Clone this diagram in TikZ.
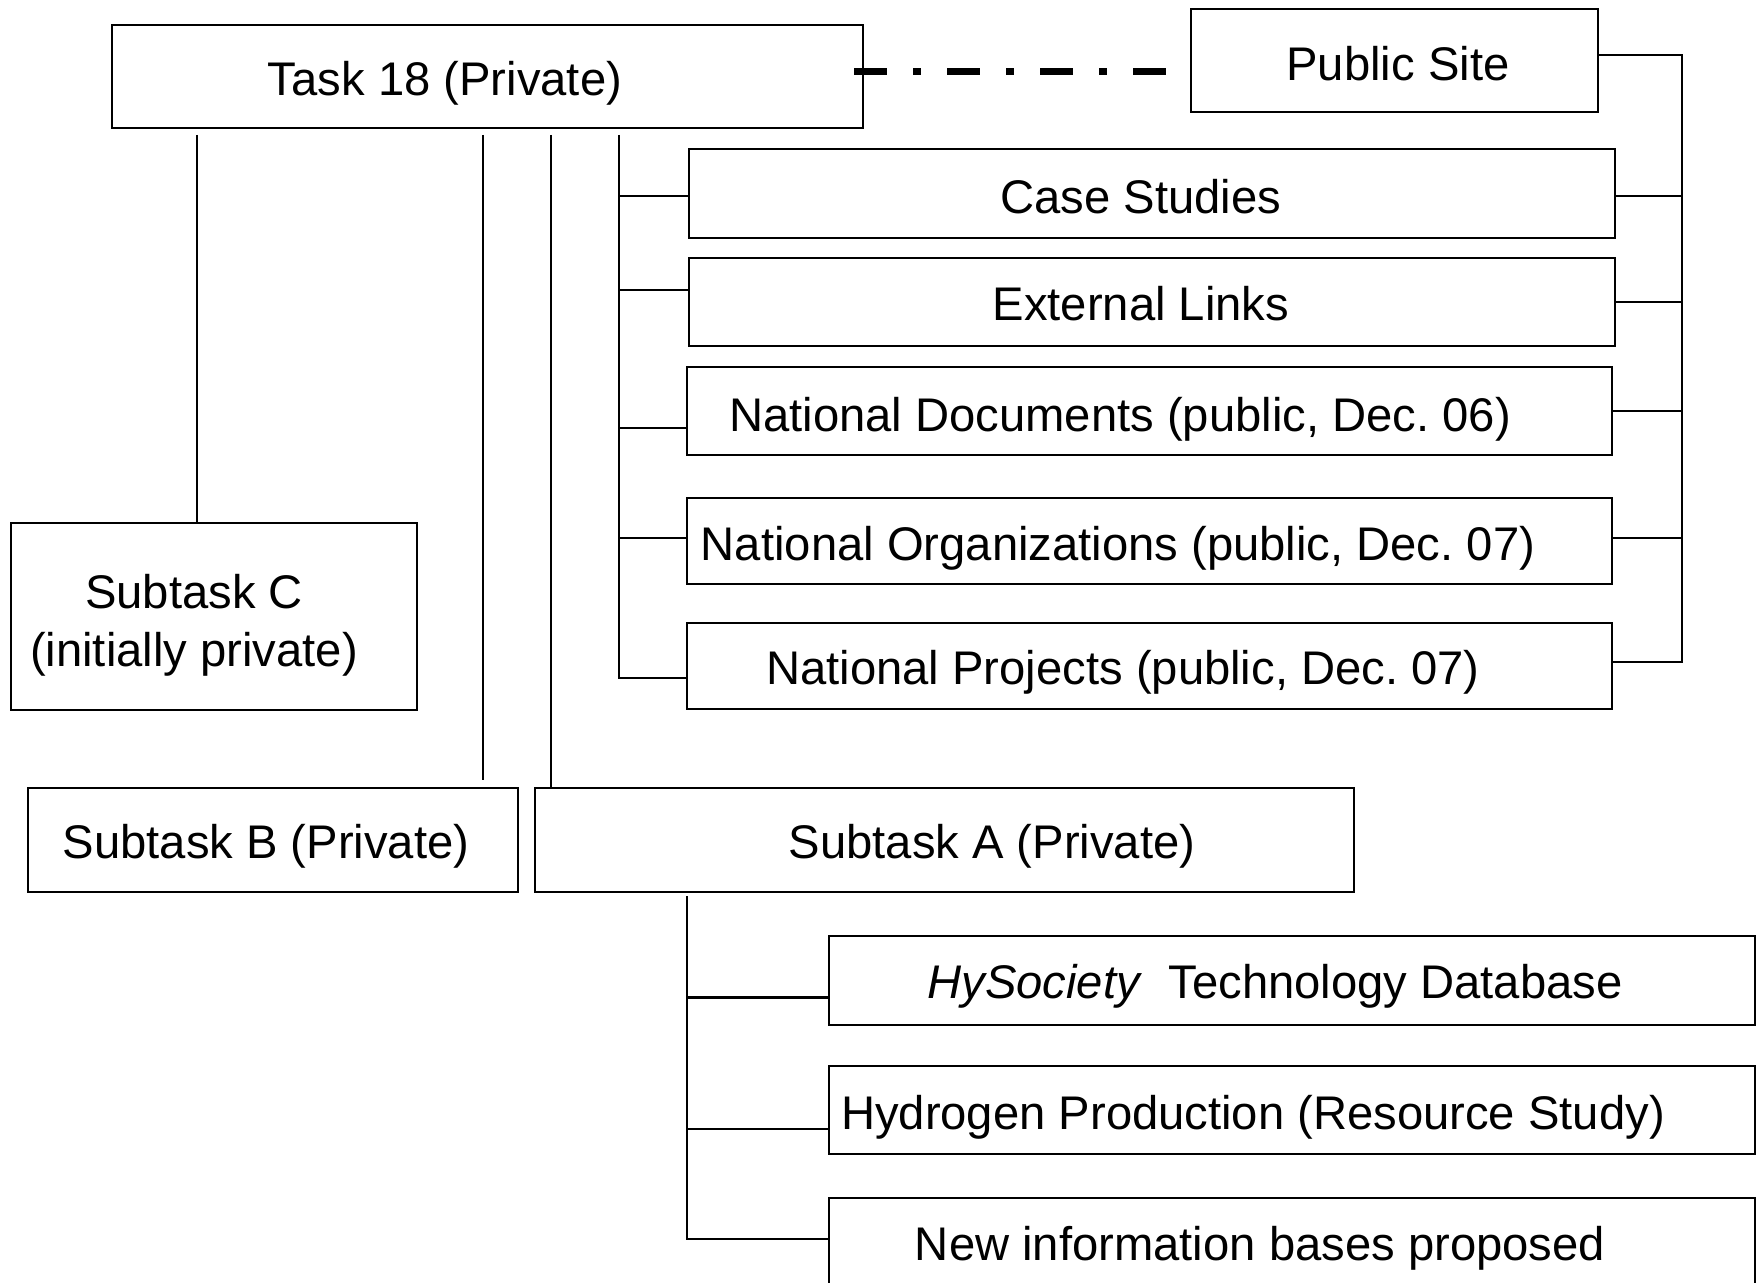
\documentclass[tikz,border=0pt]{standalone}
\usepackage{fontspec}
\setmainfont{Liberation Sans}
\usetikzlibrary{fit}
\frenchspacing
\begin{document}
\begin{tikzpicture}[x=0.5pt,y=-0.5pt,
  box/.style={draw=black,line width=1.4pt,inner sep=0pt,outer sep=0pt,rectangle},
  txt/.style={inner sep=0pt,font=\fontsize{23.6}{29}\selectfont},
  wire/.style={draw=black,line width=1.1pt},
  linkline/.style={draw=black,line width=3.5pt,line cap=butt,
    dash pattern=on 16.5pt off 13pt on 4pt off 13pt}]
\clip (0,0) rectangle (1762,1283);
\fill[white] (0,0) rectangle (1762,1283);

% boxes
\node[box,fit={(112,25) (863,128)}] (task) {};
\node[box,fit={(1191,9) (1598,112)}] (pub) {};
\node[box,fit={(689,149) (1615,238)}] (case) {};
\node[box,fit={(689,258) (1615,346)}] (ext) {};
\node[box,fit={(687,367) (1612,455)}] (natdoc) {};
\node[box,fit={(687,498) (1612,584)}] (natorg) {};
\node[box,fit={(687,623) (1612,709)}] (natproj) {};
\node[box,fit={(11,523) (417,710)}] (subC) {};
\node[box,fit={(28,788) (518,892)}] (subB) {};
\node[box,fit={(535,788) (1354,892)}] (subA) {};
\node[box,fit={(829,936) (1755,1025)}] (hyso) {};
\node[box,fit={(829,1066) (1755,1154)}] (hyprod) {};
\node[box,fit={(829,1198) (1755,1300)}] (newinfo) {};

% labels
\node[txt] (tTask) at (445,83) {Task 18 (Private)};
\node[txt] (tPub) at (1398,64) {Public Site};
\node[txt] (tCase) at (1141,197) {Case Studies};
\node[txt] (tExt) at (1141,304) {External Links};
\node[txt] (tDoc) at (1120,419) {National Documents (public, Dec. 06)};
\node[txt] (tOrg) at (1118,548) {National Organizations (public, Dec. 07)};
\node[txt] (tProj) at (1123,672) {National Projects (public, Dec. 07)};
\node[txt,align=center] (tC) at (194,625) {Subtask C\\(initially private)};
\node[txt] (tB) at (266,846) {Subtask B (Private)};
\node[txt] (tA) at (992,846) {Subtask A (Private)};
\node[txt] (tHy) at (1275,986) {\textit{HySociety}\ \ Technology Database};
\node[txt] (tProd) at (1253,1117) {Hydrogen Production (Resource Study)};
\node[txt] (tNew) at (1260,1248) {New information bases proposed};

% link between private and public sites
\coordinate (dd) at (854,72);
\draw[linkline] (dd) -- (1166,72);

% drops from Task 18
\coordinate (dC) at (197,135);
\coordinate (dB) at (483,135);
\coordinate (dA) at (551,135);
\coordinate (lbus) at (619,135);
\draw[wire] (dC) -- (dC |- subC.north);
\draw[wire] (dB) -- ([yshift=4pt]dB |- subB.north);
\draw[wire] (dA) -- (dA |- subA.north);

% left bus to the public pages
\draw[wire] (lbus) |- ([yshift=-6pt]natproj.west);
\draw[wire] ([yshift=-1.2pt]lbus |- case.west) -- ([yshift=-1.2pt]case.west);
\draw[wire] ([yshift=6pt]lbus |- ext.west) -- ([yshift=6pt]ext.west);
\draw[wire] ([yshift=-8.5pt]lbus |- natdoc.west) -- ([yshift=-8.5pt]natdoc.west);
\draw[wire] ([yshift=1.5pt]lbus |- natorg.west) -- ([yshift=1.5pt]natorg.west);

% right bus from the public site
\coordinate (rbus) at (1682,0);
\draw[wire] ([yshift=2.75pt]pub.east) -- ([yshift=2.75pt]pub.east -| rbus) -- ([yshift=2pt]natproj.east -| rbus) -- ([yshift=2pt]natproj.east);
\draw[wire] ([yshift=-1.2pt]case.east) -- ([yshift=-1.2pt]case.east -| rbus);
\draw[wire] (ext.east) -- (ext.east -| rbus);
\draw[wire] (natdoc.east) -- (natdoc.east -| rbus);
\draw[wire] ([yshift=1.5pt]natorg.east) -- ([yshift=1.5pt]natorg.east -| rbus);

% Subtask A bus
\coordinate (abus) at (687,896);
\draw[wire] (abus) |- ([yshift=-20.5pt]newinfo.north west);
\draw[wire] ([yshift=-8.5pt]abus |- hyso.west) -- ([yshift=-8.5pt]hyso.west);
\draw[wire] ([yshift=-9.5pt]abus |- hyprod.west) -- ([yshift=-9.5pt]hyprod.west);
\end{tikzpicture}
\end{document}
